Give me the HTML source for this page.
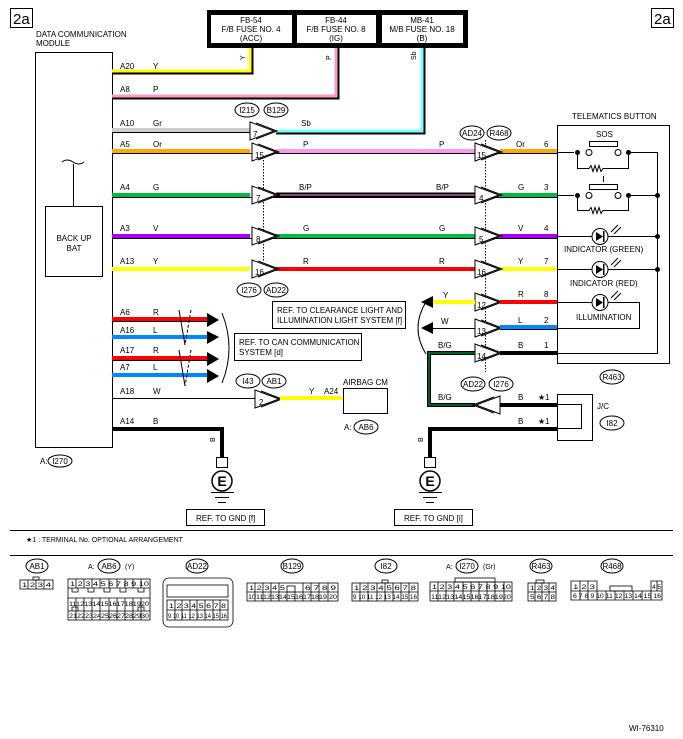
<!DOCTYPE html>
<html><head><meta charset="utf-8"><style>
html,body{margin:0;padding:0;background:#fff}
svg{display:block;font-family:"Liberation Sans",sans-serif}
text{font-size:8px;fill:#000}
.c text{font-size:6px}
</style></head><body>
<svg width="683" height="739" viewBox="0 0 683 739" xmlns="http://www.w3.org/2000/svg">
<defs>
<g id="tr"><polygon points="0,-9 24,0 0,9" fill="#fff" stroke="#000" stroke-width="1"/><polyline points="6,-8 27,0 6,8" fill="none" stroke="#000" stroke-width="1"/></g>
<g id="tl"><polygon points="0,-9 -24,0 0,9" fill="#fff" stroke="#000" stroke-width="1"/><polyline points="-6,-8 -27,0 -6,8" fill="none" stroke="#000" stroke-width="1"/></g>
</defs>
<rect x="10.5" y="8.5" width="22" height="19" fill="none" stroke="#000"/>
<text x="13" y="24" style="font-size:15px">2a</text>
<rect x="651.5" y="8.5" width="22" height="19" fill="none" stroke="#000"/>
<text x="654" y="24" style="font-size:15px">2a</text>

<rect x="207" y="10" width="261" height="38" fill="#000"/>
<rect x="211" y="15" width="81" height="28" fill="#fff"/>
<rect x="297" y="15" width="79" height="28" fill="#fff"/>
<rect x="382" y="15" width="81" height="28" fill="#fff"/>
<g text-anchor="middle" style="font-size:8px">
<text x="251" y="23">FB-54</text><text x="251" y="32">F/B FUSE NO. 4</text><text x="251" y="41">(ACC)</text>
<text x="336" y="23">FB-44</text><text x="336" y="32">F/B FUSE NO. 8</text><text x="336" y="41">(IG)</text>
<text x="422" y="23">MB-41</text><text x="422" y="32">M/B FUSE NO. 18</text><text x="422" y="41">(B)</text>
</g>

<text x="36" y="37">DATA COMMUNICATION</text><text x="36" y="46">MODULE</text>
<rect x="35.5" y="52.5" width="77" height="395" fill="none" stroke="#000"/>
<rect x="45.5" y="206.5" width="57" height="70" fill="none" stroke="#000"/>
<text x="74" y="241" text-anchor="middle">BACK UP</text><text x="74" y="251" text-anchor="middle">BAT</text>
<line x1="73.5" y1="164" x2="73.5" y2="206" stroke="#000"/>
<path d="M62 162 q5 -4 11 0 t11 0" fill="none" stroke="#000"/>
<text x="40" y="464">A:</text><ellipse cx="60" cy="461" rx="12" ry="6" fill="none" stroke="#000"/><text x="60" y="464" text-anchor="middle">I270</text>

<path d="M112 72 H251 V48" fill="none" stroke="#000" stroke-width="5"/>
<path d="M112 71 H250 V48" fill="none" stroke="#ff0" stroke-width="3"/>
<path d="M112 97 H337 V48" fill="none" stroke="#000" stroke-width="5"/>
<path d="M112 96 H336 V48" fill="none" stroke="#f9c" stroke-width="3"/>
<path d="M276 132 H423 V48" fill="none" stroke="#000" stroke-width="5"/>
<path d="M276 131 H422 V48" fill="none" stroke="#7ff" stroke-width="3"/>
<text x="245" y="60" transform="rotate(-90 245 60)" style="font-size:7px">Y</text>
<text x="331" y="60" transform="rotate(-90 331 60)" style="font-size:7px">P</text>
<text x="416" y="60" transform="rotate(-90 416 60)" style="font-size:7px">Sb</text>
<text x="120" y="69">A20</text><text x="153" y="69">Y</text>
<text x="120" y="92">A8</text><text x="153" y="92">P</text>

<g stroke-width="4" fill="none">
<line x1="112" y1="130" x2="250" y2="130" stroke="#ccc"/>
<line x1="112" y1="151" x2="250" y2="151" stroke="#fa0"/>
<line x1="276" y1="151" x2="475" y2="151" stroke="#f9e"/>
<line x1="500" y1="151" x2="557" y2="151" stroke="#fa0"/>
<line x1="112" y1="195" x2="250" y2="195" stroke="#0b4"/>
<line x1="500" y1="195" x2="557" y2="195" stroke="#0b4"/>
<line x1="112" y1="236" x2="250" y2="236" stroke="#a0f"/>
<line x1="276" y1="236" x2="475" y2="236" stroke="#0b4"/>
<line x1="500" y1="236" x2="557" y2="236" stroke="#a0f"/>
<line x1="112" y1="269" x2="250" y2="269" stroke="#ff0"/>
<line x1="276" y1="269" x2="475" y2="269" stroke="#f00"/>
<line x1="500" y1="269" x2="557" y2="269" stroke="#ff0"/>
</g>
<g stroke="#000" stroke-width="1">
<line x1="112" y1="132.5" x2="250" y2="132.5"/>
<line x1="112" y1="153.5" x2="557" y2="153.5"/>
<line x1="112" y1="197.5" x2="557" y2="197.5"/>
<line x1="112" y1="238.5" x2="557" y2="238.5"/>
</g>
<line x1="276" y1="195" x2="475" y2="195" stroke="#000" stroke-width="5"/>
<line x1="276" y1="195" x2="475" y2="195" stroke="#f9e" stroke-width="1"/>
<line x1="263.5" y1="160" x2="263.5" y2="262" stroke="#000" stroke-dasharray="1.5,1.5"/>
<line x1="485.5" y1="140" x2="485.5" y2="372" stroke="#000" stroke-dasharray="1.5,1.5"/>
<g><use href="#tr" x="250" y="131"/><use href="#tr" x="252" y="152"/><use href="#tr" x="252" y="195"/><use href="#tr" x="252" y="236"/><use href="#tr" x="252" y="269"/>
<use href="#tr" x="475" y="152"/><use href="#tr" x="475" y="195"/><use href="#tr" x="475" y="236"/><use href="#tr" x="475" y="269"/>
<use href="#tr" x="475" y="302"/><use href="#tr" x="475" y="328"/><use href="#tr" x="475" y="353"/><use href="#tr" x="255" y="399"/></g>
<g style="font-size:8px">
<text x="253" y="137">7</text><text x="255" y="158">15</text><text x="256" y="201">7</text><text x="256" y="242">8</text><text x="255" y="275">16</text>
<text x="477" y="158">15</text><text x="479" y="201">4</text><text x="479" y="242">5</text><text x="477" y="275">16</text>
<text x="477" y="308">12</text><text x="477" y="334">13</text><text x="477" y="359">14</text><text x="259" y="405">2</text><text x="489" y="411">5</text>
</g>
<g>
<text x="120" y="126">A10</text><text x="153" y="126">Gr</text>
<text x="120" y="147">A5</text><text x="153" y="147">Or</text>
<text x="120" y="190">A4</text><text x="153" y="190">G</text>
<text x="120" y="231">A3</text><text x="153" y="231">V</text>
<text x="120" y="264">A13</text><text x="153" y="264">Y</text>
<text x="301" y="126">Sb</text><text x="303" y="147">P</text><text x="299" y="190">B/P</text><text x="303" y="231">G</text><text x="303" y="264">R</text>
<text x="439" y="147">P</text><text x="436" y="190">B/P</text><text x="439" y="231">G</text><text x="439" y="264">R</text>
<text x="516" y="147">Or</text><text x="544" y="147">6</text>
<text x="518" y="190">G</text><text x="544" y="190">3</text>
<text x="518" y="231">V</text><text x="544" y="231">4</text>
<text x="518" y="264">Y</text><text x="544" y="264">7</text>
<text x="518" y="297">R</text><text x="544" y="297">8</text>
<text x="518" y="323">L</text><text x="544" y="323">2</text>
<text x="518" y="348">B</text><text x="544" y="348">1</text>
</g>
<g fill="none" stroke="#000">
<ellipse cx="247" cy="110" rx="12" ry="7"/><ellipse cx="276" cy="110" rx="12" ry="7"/>
<ellipse cx="472" cy="133" rx="12" ry="7"/><ellipse cx="499" cy="133" rx="12" ry="7"/>
<ellipse cx="249" cy="290" rx="12" ry="7"/><ellipse cx="276" cy="290" rx="12" ry="7"/>
<ellipse cx="248" cy="381" rx="12" ry="7"/><ellipse cx="274" cy="381" rx="12" ry="7"/>
<ellipse cx="473" cy="384" rx="12" ry="7"/><ellipse cx="501" cy="384" rx="12" ry="7"/>
<ellipse cx="612" cy="377" rx="12" ry="7"/><ellipse cx="612" cy="423" rx="12" ry="7"/>
<ellipse cx="366" cy="427" rx="12" ry="7"/>
</g>
<g text-anchor="middle">
<text x="247" y="113">I215</text><text x="276" y="113">B129</text>
<text x="472" y="136">AD24</text><text x="499" y="136">R468</text>
<text x="249" y="293">I276</text><text x="276" y="293">AD22</text>
<text x="248" y="384">I43</text><text x="274" y="384">AB1</text>
<text x="473" y="387">AD22</text><text x="501" y="387">I276</text>
<text x="612" y="380">R463</text><text x="612" y="426">I82</text>
<text x="366" y="430">AB6</text>
</g>
<text x="344" y="430">A:</text>

<g stroke-width="4">
<line x1="112" y1="319" x2="208" y2="319" stroke="#f00"/>
<line x1="112" y1="337" x2="208" y2="337" stroke="#08f"/>
<line x1="112" y1="358" x2="208" y2="358" stroke="#f00"/>
<line x1="112" y1="375" x2="208" y2="375" stroke="#08f"/>
</g>
<g stroke="#000"><line x1="112" y1="321.5" x2="208" y2="321.5"/><line x1="112" y1="360.5" x2="208" y2="360.5"/></g>
<g fill="#000"><polygon points="207,313 219,320 207,327"/><polygon points="207,331 219,337 207,344"/><polygon points="207,352 219,359 207,366"/><polygon points="207,369 219,376 207,383"/></g>
<g stroke="#000" fill="none"><line x1="179" y1="310" x2="185" y2="345"/><line x1="191" y1="310" x2="185" y2="345" stroke-dasharray="3,2"/><line x1="179" y1="350" x2="185" y2="386"/><line x1="191" y1="350" x2="185" y2="386" stroke-dasharray="3,2"/>
<path d="M222 313 Q236 348 222 383"/></g>
<text x="120" y="315">A6</text><text x="153" y="315">R</text>
<text x="120" y="333">A16</text><text x="153" y="333">L</text>
<text x="120" y="353">A17</text><text x="153" y="353">R</text>
<text x="120" y="370">A7</text><text x="153" y="370">L</text>
<rect x="234.5" y="333.5" width="127" height="27" fill="none" stroke="#000"/>
<text x="239" y="345">REF. TO CAN COMMUNICATION</text><text x="239" y="355">SYSTEM  [d]</text>
<rect x="272.5" y="301.5" width="133" height="27" fill="none" stroke="#000"/>
<text x="277" y="313">REF. TO CLEARANCE LIGHT AND</text><text x="277" y="323">ILLUMINATION LIGHT SYSTEM   [f]</text>
<path d="M426 302 Q410 328 426 354" fill="none" stroke="#000"/>

<line x1="112" y1="398.5" x2="255" y2="398.5" stroke="#000"/>
<line x1="280" y1="398" x2="343" y2="398" stroke="#ff0" stroke-width="4"/>
<rect x="343.5" y="388.5" width="44" height="25" fill="none" stroke="#000"/>
<text x="343" y="385">AIRBAG CM</text>
<text x="120" y="394">A18</text><text x="153" y="394">W</text>
<text x="309" y="394">Y</text><text x="324" y="394">A24</text>

<path d="M112 429 H222 V457" fill="none" stroke="#000" stroke-width="4"/>
<text x="120" y="424">A14</text><text x="153" y="424">B</text>
<text x="215" y="442" transform="rotate(-90 215 442)" style="font-size:7px">B</text>
<g id="gnd" stroke="#000" fill="none">
<rect x="216.5" y="457.5" width="11" height="10" fill="#fff"/>
<circle cx="222" cy="481" r="10" stroke-width="1.5"/>
<line x1="211" y1="492.5" x2="234" y2="492.5"/><line x1="215" y1="497.5" x2="229" y2="497.5"/><line x1="218" y1="502.5" x2="226" y2="502.5"/>
</g>
<text x="222" y="486" text-anchor="middle" style="font-size:14px;font-weight:bold">E</text>
<rect x="186.5" y="509.5" width="78" height="16" fill="none" stroke="#000"/>
<text x="196" y="521">REF. TO GND  [f]</text>

<line x1="433" y1="302" x2="475" y2="302" stroke="#ff0" stroke-width="4"/>
<line x1="500" y1="302" x2="557" y2="302" stroke="#f00" stroke-width="4"/>
<line x1="433" y1="328.5" x2="475" y2="328.5" stroke="#000"/>
<line x1="500" y1="327" x2="557" y2="327" stroke="#08f" stroke-width="4"/>
<line x1="500" y1="329.5" x2="557" y2="329.5" stroke="#000"/>
<polygon points="433,296 421,302 433,308" fill="#000"/><polygon points="433,322 421,328 433,334" fill="#000"/>
<text x="443" y="298">Y</text><text x="441" y="324">W</text>
<line x1="500" y1="353" x2="557" y2="353" stroke="#000" stroke-width="4"/>
<path d="M475 353 H429 V405 H475" fill="none" stroke="#000" stroke-width="4"/>
<path d="M475 353 H429 V405 H475" fill="none" stroke="#0b4" stroke-width="1"/>
<use href="#tl" x="500" y="405"/>
<line x1="500" y1="405" x2="557" y2="405" stroke="#000" stroke-width="4"/>
<path d="M557 429 H430 V457" fill="none" stroke="#000" stroke-width="4"/>
<text x="438" y="348">B/G</text><text x="438" y="400">B/G</text>
<text x="518" y="400">B</text><text x="538" y="400">★1</text>
<text x="518" y="424">B</text><text x="538" y="424">★1</text>
<text x="423" y="442" transform="rotate(-90 423 442)" style="font-size:7px">B</text>
<use href="#gnd" x="208"/>
<text x="430" y="486" text-anchor="middle" style="font-size:14px;font-weight:bold">E</text>
<rect x="394.5" y="509.5" width="78" height="16" fill="none" stroke="#000"/>
<text x="404" y="521">REF. TO GND  [i]</text>
<rect x="557.5" y="394.5" width="35" height="46" fill="none" stroke="#000"/>
<path d="M557 404.5 H581.5 V428.5 H557" fill="none" stroke="#000"/>
<text x="597" y="409">J/C</text>

<text x="572" y="119">TELEMATICS BUTTON</text>
<rect x="557.5" y="125.5" width="112" height="238" fill="none" stroke="#000"/>
<g stroke="#000" fill="none">
<path d="M557 152.5 H574 M631 152.5 H657.5 V353.5 H557"/>
<path d="M557 195.5 H574 M631 195.5 H657"/>
<path d="M577.5 152 V168.5 H589 l2 -3 l2 6 l2 -6 l2 6 l2 -6 l2 6 l2 -3 H628.5 V152"/>
<path d="M577.5 195 V210.5 H589 l2 -3 l2 6 l2 -6 l2 6 l2 -6 l2 6 l2 -3 H628.5 V195"/>
<rect x="589.5" y="141.5" width="28" height="5"/><rect x="589.5" y="184.5" width="28" height="5"/>
<line x1="603.5" y1="176" x2="603.5" y2="182"/>
<circle cx="589" cy="152.5" r="3" fill="#fff"/><circle cx="618" cy="152.5" r="3" fill="#fff"/>
<circle cx="589" cy="195.5" r="3" fill="#fff"/><circle cx="618" cy="195.5" r="3" fill="#fff"/>
<line x1="557" y1="236.5" x2="657" y2="236.5"/><line x1="557" y1="269.5" x2="657" y2="269.5"/>
<path d="M557 302.5 H639.5 V328.5 H557"/>
<circle cx="600" cy="236.5" r="8" fill="#fff"/><circle cx="600" cy="269.5" r="8" fill="#fff"/><circle cx="600" cy="302.5" r="8" fill="#fff"/>
<path d="M611 232 l7 -7 M614 234 l7 -7 M611 265 l7 -7 M614 267 l7 -7 M611 298 l7 -7 M614 300 l7 -7"/>
</g>
<g fill="#000">
<circle cx="577.5" cy="152.5" r="2.5"/><circle cx="628.5" cy="152.5" r="2.5"/><circle cx="577.5" cy="195.5" r="2.5"/><circle cx="628.5" cy="195.5" r="2.5"/>
<circle cx="657.5" cy="195.5" r="2.5"/><circle cx="657.5" cy="236.5" r="2.5"/><circle cx="657.5" cy="269.5" r="2.5"/>
<polygon points="596,232 596,241 603,236.5"/><polygon points="596,265 596,274 603,269.5"/><polygon points="596,298 596,307 603,302.5"/>
<rect x="603" y="231" width="1.5" height="11"/><rect x="603" y="264" width="1.5" height="11"/><rect x="603" y="297" width="1.5" height="11"/>
</g>
<text x="596" y="137">SOS</text>
<text x="564" y="252">INDICATOR (GREEN)</text>
<text x="570" y="286">INDICATOR (RED)</text>
<text x="576" y="320">ILLUMINATION</text>

<line x1="10" y1="530.5" x2="673" y2="530.5" stroke="#000"/>
<text x="26" y="542" style="font-size:7px">★1  : TERMINAL No. OPTIONAL ARRANGEMENT</text>
<line x1="10" y1="555.5" x2="673" y2="555.5" stroke="#000"/>
<g fill="none" stroke="#000">
<ellipse cx="37" cy="566" rx="11" ry="7"/><ellipse cx="109" cy="566" rx="11" ry="7"/><ellipse cx="197" cy="566" rx="11" ry="7"/><ellipse cx="292" cy="566" rx="11" ry="7"/>
<ellipse cx="386" cy="566" rx="11" ry="7"/><ellipse cx="467" cy="566" rx="11" ry="7"/><ellipse cx="541" cy="566" rx="11" ry="7"/><ellipse cx="612" cy="566" rx="11" ry="7"/>
</g>
<g text-anchor="middle" style="font-size:7px">
<text x="37" y="569">AB1</text><text x="109" y="569">AB6</text><text x="197" y="569">AD22</text><text x="292" y="569">B129</text>
<text x="386" y="569">I82</text><text x="467" y="569">I270</text><text x="541" y="569">R463</text><text x="612" y="569">R468</text>
</g>
<text x="88" y="569" style="font-size:7px">A:</text><text x="125" y="569" style="font-size:7px">(Y)</text>
<text x="446" y="569" style="font-size:7px">A:</text><text x="483" y="569" style="font-size:7px">(Gr)</text>

<g class="c" fill="none" stroke="#000" stroke-width="0.8">
<rect x="20" y="580" width="33" height="9"/><path d="M28 580 V589 M36 580 V589 M44 580 V589"/><rect x="33" y="577" width="6" height="3"/>
<rect x="68" y="579" width="82" height="41"/>
<path d="M68 588 H150 M68 598 H150 M68 611 H150"/>
<path d="M76 579 V588 M84 579 V588 M92 579 V588 M100 579 V588 M109 579 V588 M117 579 V588 M125 579 V588 M133 579 V588 M141 579 V588"/>
<path d="M76 598 V611 M84 598 V611 M92 598 V611 M100 598 V611 M109 598 V611 M117 598 V611 M125 598 V611 M133 598 V611 M141 598 V611"/>
<path d="M76 611 V620 M84 611 V620 M92 611 V620 M100 611 V620 M109 611 V620 M117 611 V620 M125 611 V620 M133 611 V620 M141 611 V620"/>
<path d="M72 588 v4 h6 v-4 M88 588 v4 h6 v-4 M104 588 v4 h6 v-4 M120 588 v4 h6 v-4 M138 588 v4 h6 v-4 M72 611 v-4 h6 v4 M138 611 v-4 h6 v4"/>
<rect x="163" y="578" width="70" height="49" rx="6"/>
<rect x="167" y="585" width="61" height="12"/>
<rect x="167" y="600" width="61" height="20"/><path d="M167 610 H228 M175 600 V620 M182 600 V620 M190 600 V620 M197 600 V620 M205 600 V620 M213 600 V620 M220 600 V620"/>
<rect x="247" y="583" width="91" height="18"/><path d="M247 592 H338 M255 583 V601 M263 583 V601 M271 583 V601 M279 583 V601 M287 592 V601 M295 592 V601 M303 583 V601 M311 583 V601 M319 583 V601 M328 583 V601"/><rect x="287" y="586" width="8" height="6"/>
<rect x="352" y="583" width="66" height="18"/><path d="M352 592 H418 M360 583 V601 M368 583 V601 M377 583 V601 M385 583 V601 M393 583 V601 M401 583 V601 M409 583 V601"/><rect x="382" y="580" width="6" height="3"/>
<rect x="430" y="582" width="82" height="19"/><path d="M430 591 H512 M438 582 V601 M446 582 V601 M454 582 V601 M463 582 V601 M471 582 V601 M479 582 V601 M487 582 V601 M495 582 V601 M504 582 V601"/><rect x="455" y="578" width="40" height="4"/>
<rect x="528" y="583" width="28" height="18"/><path d="M528 592 H556 M535 583 V601 M542 583 V601 M549 583 V601"/><rect x="536" y="580" width="8" height="3"/>
<path d="M571 581 H597 V591 H651 V581 H662 V600 H571 Z M571 591 H662 M580 581 V600 M588 581 V600 M597 591 V600 M606 591 V600 M615 591 V600 M624 591 V600 M633 591 V600 M642 591 V600 M651 591 V600 M657 581 V591"/><rect x="610" y="586" width="22" height="5"/>
</g>
<g class="c" lengthAdjust="spacingAndGlyphs">
<text x="22" y="587" textLength="29" lengthAdjust="spacingAndGlyphs">1  2  3  4</text>
<text x="70" y="586" textLength="79" lengthAdjust="spacingAndGlyphs">1 2 3 4 5 6 7 8 9 10</text>
<text x="69" y="606" textLength="80" lengthAdjust="spacingAndGlyphs">11121314151617181920</text>
<text x="69" y="618" textLength="80" lengthAdjust="spacingAndGlyphs">21222324252627282930</text>
<text x="169" y="608" textLength="57" lengthAdjust="spacingAndGlyphs">1  2  3  4  5  6  7  8</text>
<text x="168" y="618" textLength="59" lengthAdjust="spacingAndGlyphs">9 10 11 12 13 14 15 16</text>
<text x="249" y="590" textLength="36" lengthAdjust="spacingAndGlyphs">1  2  3  4  5</text>
<text x="305" y="590" textLength="31" lengthAdjust="spacingAndGlyphs">6  7  8  9</text>
<text x="248" y="599" textLength="89" lengthAdjust="spacingAndGlyphs">10111213141516171819 20</text>
<text x="354" y="590" textLength="62" lengthAdjust="spacingAndGlyphs">1  2  3  4  5  6  7  8</text>
<text x="353" y="599" textLength="64" lengthAdjust="spacingAndGlyphs">9 10 11 12 13 14 15 16</text>
<text x="432" y="589" textLength="79" lengthAdjust="spacingAndGlyphs">1  2  3  4  5  6  7  8  9 10</text>
<text x="431" y="599" textLength="80" lengthAdjust="spacingAndGlyphs">11121314151617181920</text>
<text x="530" y="590" textLength="25" lengthAdjust="spacingAndGlyphs">1 2 3 4</text><text x="530" y="599" textLength="25" lengthAdjust="spacingAndGlyphs">5 6 7 8</text>
<text x="573" y="589" textLength="22" lengthAdjust="spacingAndGlyphs">1  2  3</text><text x="652" y="589" textLength="9" lengthAdjust="spacingAndGlyphs">4 5</text>
<text x="573" y="598" textLength="88" lengthAdjust="spacingAndGlyphs">6  7  8  9 10 11 12 13 14 15 16</text>
</g>
<text x="629" y="731" style="font-size:8px">WI-76310</text>
</svg>
</body></html>
